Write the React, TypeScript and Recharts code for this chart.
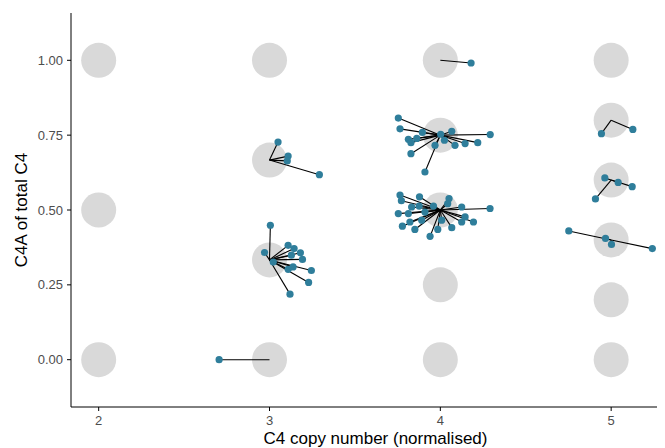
import { Scatter, ScatterChart, XAxis, YAxis } from "recharts";

// copy-number lattice (expected C4A fractions for each copy number)
const latticeCopyNumber = [2, 2, 2, 3, 3, 3, 3, 4, 4, 4, 4, 4, 5, 5, 5, 5, 5, 5];
const latticeFraction = [0, 0.5, 1, 0, 0.3333, 0.6667, 1, 0, 0.25, 0.5, 0.75, 1, 0, 0.2, 0.4, 0.6, 0.8, 1];

const xTicks = [2, 3, 4, 5];
const yTicks = [0, 0.25, 0.5, 0.75, 1];

// measured samples, grouped by the lattice point they were called to
const cn3_000: [number, number][] = [[2.705, 0.0]];
const cn3_033: [number, number][] = [
  [3.005, 0.449], [2.971, 0.358], [3.109, 0.382], [3.144, 0.371], [3.181, 0.357],
  [3.193, 0.335], [3.128, 0.349], [3.245, 0.298], [3.229, 0.258], [3.12, 0.219],
  [3.138, 0.31], [3.109, 0.302], [3.022, 0.326],
];
const cn3_067: [number, number][] = [[3.05, 0.727], [3.109, 0.68], [3.104, 0.664], [3.292, 0.618]];
const cn4_050: [number, number][] = [
  [3.764, 0.55], [3.772, 0.531], [3.878, 0.544], [4.051, 0.538], [4.043, 0.521],
  [4.125, 0.51], [4.291, 0.505], [3.754, 0.488], [3.832, 0.51], [3.813, 0.488],
  [3.778, 0.446], [3.822, 0.46], [3.851, 0.435], [3.94, 0.412], [3.985, 0.435],
  [4.067, 0.441], [4.125, 0.46], [4.194, 0.46], [4.145, 0.477], [4.008, 0.466],
  [3.891, 0.466], [3.91, 0.493], [3.96, 0.513], [3.876, 0.513],
];
const cn4_075: [number, number][] = [
  [3.754, 0.807], [3.764, 0.771], [3.813, 0.736], [3.828, 0.725], [3.862, 0.739],
  [3.895, 0.759], [3.969, 0.716], [4.002, 0.753], [4.067, 0.763], [4.086, 0.716],
  [4.145, 0.722], [4.219, 0.725], [4.292, 0.752], [3.828, 0.688], [3.91, 0.627],
  [4.024, 0.733],
];
const cn4_100: [number, number][] = [[4.18, 0.991]];
const cn5_040: [number, number][] = [[4.752, 0.43], [4.967, 0.405], [5.002, 0.385], [5.241, 0.371]];
const cn5_060: [number, number][] = [[4.963, 0.607], [5.041, 0.592], [5.123, 0.578], [4.908, 0.537]];
const cn5_080: [number, number][] = [[4.943, 0.755], [5.127, 0.769]];

const groups: { cn: number; frac: number; pts: [number, number][] }[] = [
  { cn: 3, frac: 0, pts: cn3_000 },
  { cn: 3, frac: 0.3333, pts: cn3_033 },
  { cn: 3, frac: 0.6667, pts: cn3_067 },
  { cn: 4, frac: 0.5, pts: cn4_050 },
  { cn: 4, frac: 0.75, pts: cn4_075 },
  { cn: 4, frac: 1, pts: cn4_100 },
  { cn: 5, frac: 0.4, pts: cn5_040 },
  { cn: 5, frac: 0.6, pts: cn5_060 },
  { cn: 5, frac: 0.8, pts: cn5_080 },
];

const lattice = latticeCopyNumber.map((cn, i) => ({ x: cn, y: latticeFraction[i] }));
const segments = groups.flatMap((g) =>
  g.pts.map(([x, y]) => [
    { x: g.cn, y: g.frac },
    { x, y },
  ])
);
const samples = groups.flatMap((g) => g.pts.map(([x, y]) => ({ x, y })));

const tickStyle = { fill: "#4d4d4d", fontSize: 13 };
const font = "'Liberation Sans', Arial, Helvetica, sans-serif";

const Blank = () => <g />;

export default function App() {
  return (
    <div style={{ width: 657, height: 440, overflow: "hidden", fontFamily: font }}>
      <ScatterChart width={672} height={440} margin={{ top: 5, right: 0, bottom: 0, left: 0 }}>
        <XAxis
          type="number"
          dataKey="x"
          domain={[1.838, 5.403]}
          ticks={xTicks}
          allowDataOverflow
          stroke="#000"
          tickSize={4}
          tick={tickStyle}
          tickMargin={5}
          height={41}
          label={{ value: "C4 copy number (normalised)", position: "insideBottom", offset: 4, fill: "#000", fontSize: 17 }}
        />
        <YAxis
          type="number"
          dataKey="y"
          domain={[-0.158, 1.158]}
          ticks={yTicks}
          allowDataOverflow
          stroke="#000"
          tickSize={4}
          tick={tickStyle}
          tickMargin={4}
          width={63}
          tickFormatter={(v: number) => v.toFixed(2)}
          label={{ value: "C4A of total C4", angle: -90, position: "insideLeft", offset: 13, fill: "#000", fontSize: 17, style: { textAnchor: "middle" } }}
        />
        <Scatter
          data={lattice}
          isAnimationActive={false}
          shape={(p: any) => <circle cx={p.cx} cy={p.cy} r={17.5} fill="#d9d9d9" />}
        />
        {segments.map((seg, i) => (
          <Scatter
            key={i}
            data={seg}
            isAnimationActive={false}
            line={{ stroke: "#000", strokeWidth: 1.1 }}
            shape={Blank}
          />
        ))}
        <Scatter
          data={samples}
          isAnimationActive={false}
          shape={(p: any) => <circle cx={p.cx} cy={p.cy} r={3.6} fill="#2f7e9b" />}
        />
      </ScatterChart>
    </div>
  );
}
